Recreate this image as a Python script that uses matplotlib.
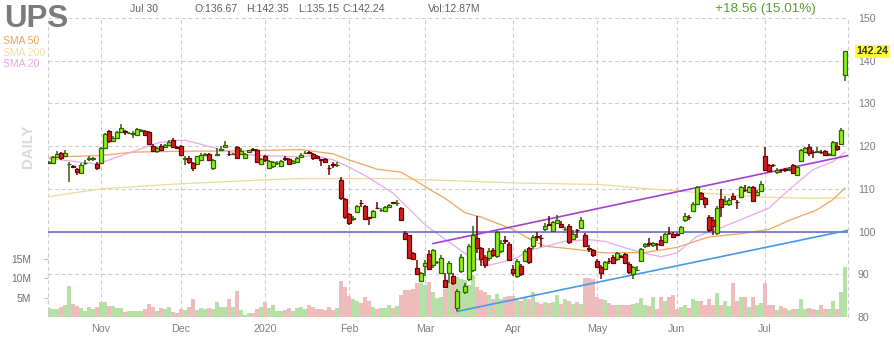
import matplotlib.pyplot as plt
import numpy as np

plt.rcParams['font.family'] = ['Liberation Sans', 'DejaVu Sans']

# UPS daily candles, one entry per trading day (15 Oct 2019 .. 30 Jul 2020)
opens = [
    116.1, 116.0, 117.5, 118.4, 117.6, 115.8, 115.4, 114.7, 113.7, 116.0,
    117.0, 117.0, 115.8, 116.05, 119.55, 123.45, 121.1, 122.0, 123.3, 123.5,
    123.05, 122.9, 122.7, 123.6, 123.45, 123.3, 120.1, 118.8, 119.95, 119.7,
    120.2, 121.5, 119.8, 119.95, 117.0, 117.2, 116.05, 115.8, 116.8, 118.0,
    118.2, 115.0, 118.0, 119.1, 119.7, 118.2, 118.1, 119.8, 118.2, 117.2,
    118.6, 119.4, 119.0, 115.9, 117.6, 114.9, 115.3, 116.05, 115.4, 117.1,
    117.0, 116.05, 116.4, 117.45, 118.3, 118.6, 118.15, 117.8, 116.9, 117.0,
    115.0, 115.8, 115.5, 112.15, 107.6, 104.2, 103.0, 104.5, 106.8, 106.1,
    103.3, 103.35, 105.6, 105.0, 104.75, 105.7, 106.9, 106.6, 105.5, 99.7,
    99.1, 95.0, 91.5, 88.4, 91.9, 94.8, 92.1, 92.8, 90.2, 88.55,
    90.2, 89.7, 82.2, 90.7, 85.8, 89.0, 90.9, 98.5, 96.2, 94.0,
    93.85, 95.6, 94.2, 95.4, 98.0, 97.0, 91.2, 89.6, 92.0, 93.05,
    96.2, 96.7, 99.0, 98.5, 100.5, 101.8, 100.1, 102.0, 101.8, 100.5,
    101.4, 98.3, 100.4, 100.85, 99.3, 96.2, 95.6, 93.2, 91.75, 91.3,
    93.2, 94.1, 93.5, 94.2, 94.85, 92.5, 89.95, 91.0, 93.1, 96.6,
    97.4, 96.8, 97.2, 98.05, 97.6, 99.7, 99.4, 99.4, 99.6, 102.6,
    103.4, 104.75, 106.5, 109.0, 107.9, 103.4, 102.7, 99.7, 107.6, 106.5,
    106.5, 108.25, 107.0, 108.0, 109.8, 109.3, 110.4, 108.6, 109.4, 117.7,
    115.6, 115.6, 113.9, 114.4, 114.6, 114.5, 115.5, 113.3, 116.6, 118.6,
    119.8, 118.7, 118.7, 118.7, 118.8, 118.0, 118.0, 120.0, 120.5, 136.67,
]
highs = [
    116.6, 117.8, 118.8, 118.6, 119.2, 116.2, 115.7, 115.0, 116.0, 116.8,
    117.6, 117.5, 116.2, 119.8, 123.0, 123.8, 122.3, 123.6, 125.1, 123.7,
    123.3, 123.6, 124.2, 124.0, 123.7, 123.5, 120.4, 119.8, 120.5, 120.6,
    121.5, 121.8, 120.0, 120.2, 117.6, 117.6, 116.3, 117.8, 118.4, 118.4,
    118.5, 117.0, 119.5, 120.1, 121.3, 118.8, 118.5, 120.0, 119.6, 118.5,
    119.2, 119.6, 119.3, 117.3, 118.0, 116.8, 116.5, 116.5, 116.8, 117.6,
    117.3, 116.8, 117.4, 118.3, 118.8, 118.8, 118.4, 118.0, 117.0, 117.2,
    115.7, 116.2, 116.4, 112.8, 107.9, 104.4, 103.6, 106.3, 107.5, 106.3,
    103.5, 105.1, 106.9, 105.5, 106.0, 106.5, 107.0, 107.5, 105.7, 100.2,
    99.3, 95.2, 93.3, 90.6, 93.3, 95.8, 96.0, 93.1, 94.5, 90.4,
    93.0, 90.2, 86.5, 94.8, 88.0, 97.0, 101.2, 103.7, 96.5, 94.5,
    96.2, 96.2, 100.2, 98.0, 98.9, 97.5, 92.2, 93.6, 92.5, 96.0,
    96.5, 99.2, 99.8, 99.2, 102.0, 103.6, 102.5, 103.8, 102.4, 101.0,
    101.8, 100.4, 100.7, 103.5, 99.6, 96.8, 95.9, 93.5, 92.2, 93.2,
    93.7, 94.4, 95.2, 94.5, 95.1, 92.8, 92.0, 92.0, 96.2, 97.4,
    98.5, 97.6, 97.4, 98.9, 99.6, 101.1, 99.8, 99.7, 101.4, 104.3,
    103.9, 106.9, 110.6, 109.3, 108.1, 103.8, 103.3, 106.0, 110.0, 108.3,
    107.8, 109.0, 107.3, 110.6, 111.0, 110.6, 110.7, 109.8, 111.9, 119.8,
    115.9, 115.9, 114.9, 114.7, 115.0, 115.2, 115.8, 115.3, 119.3, 119.8,
    120.4, 119.0, 119.9, 119.0, 119.1, 118.5, 121.2, 120.9, 124.3, 142.35,
]
lows = [
    115.8, 115.8, 117.3, 116.8, 117.4, 111.5, 114.8, 113.3, 113.5, 115.6,
    116.5, 116.6, 114.5, 115.8, 119.3, 120.8, 120.9, 121.8, 123.1, 122.7,
    122.8, 121.9, 122.5, 123.3, 122.3, 120.3, 118.6, 118.5, 118.8, 119.5,
    120.0, 119.6, 119.4, 117.8, 115.7, 115.8, 114.2, 115.6, 116.6, 117.6,
    116.5, 114.5, 117.6, 118.8, 119.5, 117.8, 117.9, 117.0, 118.0, 117.0,
    118.4, 118.9, 116.0, 115.5, 116.3, 114.6, 115.0, 115.7, 115.2, 116.6,
    115.6, 115.8, 116.2, 117.3, 118.1, 118.2, 116.8, 116.9, 115.4, 116.2,
    113.3, 114.8, 115.2, 107.5, 103.0, 101.5, 102.5, 104.3, 105.8, 102.8,
    101.6, 103.1, 105.2, 104.6, 104.5, 105.5, 106.6, 106.0, 102.6, 98.0,
    93.6, 93.3, 89.8, 88.2, 89.6, 91.0, 91.5, 92.5, 90.0, 86.9,
    88.0, 87.5, 81.3, 90.2, 85.5, 88.5, 90.5, 95.0, 92.0, 91.5,
    93.0, 94.0, 93.8, 95.0, 97.0, 93.0, 89.5, 89.2, 89.6, 92.8,
    92.5, 96.0, 97.8, 96.4, 100.2, 101.2, 99.9, 101.8, 100.8, 100.2,
    97.2, 98.0, 98.6, 100.5, 96.3, 95.2, 94.0, 91.4, 89.0, 91.0,
    92.5, 92.4, 93.2, 93.7, 92.5, 90.0, 88.8, 90.8, 92.9, 96.2,
    96.4, 96.5, 95.8, 96.6, 97.4, 99.2, 98.4, 98.9, 99.4, 102.3,
    102.8, 104.5, 106.3, 107.3, 105.5, 100.0, 99.3, 99.2, 103.5, 106.2,
    106.0, 107.3, 105.2, 107.8, 109.3, 109.0, 106.9, 108.4, 109.2, 114.2,
    113.9, 115.2, 113.4, 113.7, 114.0, 114.3, 113.5, 112.9, 116.3, 118.4,
    117.8, 117.2, 118.4, 118.2, 117.8, 117.9, 117.8, 118.9, 120.3, 135.15,
]
closes = [
    116.3, 117.4, 118.1, 117.2, 118.4, 115.9, 115.2, 113.9, 115.7, 116.1,
    117.1, 117.05, 115.0, 119.55, 122.8, 121.1, 122.0, 123.3, 124.2, 123.2,
    123.1, 123.0, 124.0, 123.7, 122.5, 120.5, 118.9, 119.55, 119.0, 120.3,
    121.0, 119.8, 119.6, 118.0, 117.1, 116.3, 114.9, 117.6, 118.0, 118.1,
    116.7, 116.8, 118.1, 119.2, 120.3, 118.1, 118.2, 117.2, 118.8, 118.1,
    119.0, 119.1, 116.2, 117.1, 116.7, 116.6, 116.2, 116.1, 116.6, 117.0,
    115.9, 116.6, 117.2, 118.0, 118.4, 118.5, 117.2, 117.2, 116.8, 116.4,
    114.8, 115.6, 115.7, 107.9, 103.4, 102.0, 103.1, 106.1, 106.6, 103.0,
    103.1, 104.9, 105.5, 105.1, 105.8, 106.3, 106.8, 106.7, 102.8, 98.3,
    93.85, 93.6, 90.0, 90.35, 92.7, 91.3, 95.8, 92.9, 93.85, 87.1,
    92.7, 87.9, 86.2, 94.1, 87.2, 96.7, 99.2, 96.2, 93.5, 92.2,
    95.4, 94.4, 99.8, 97.35, 97.9, 93.3, 90.3, 93.1, 90.0, 95.55,
    92.8, 98.8, 98.8, 98.4, 101.4, 101.6, 102.2, 102.8, 101.1, 100.6,
    97.5, 99.5, 100.3, 102.6, 96.6, 96.0, 94.4, 91.75, 90.35, 92.8,
    93.0, 92.7, 94.9, 94.1, 92.7, 90.5, 91.6, 91.1, 95.9, 97.0,
    97.2, 97.3, 97.0, 96.8, 99.5, 99.6, 98.7, 99.3, 101.1, 103.7,
    103.3, 106.5, 110.4, 107.7, 106.5, 100.3, 101.3, 105.5, 105.7, 107.1,
    107.5, 107.6, 106.9, 110.4, 109.7, 110.4, 107.2, 109.3, 111.1, 114.4,
    114.1, 115.5, 114.5, 114.3, 114.5, 114.7, 113.7, 115.1, 119.0, 119.5,
    118.4, 118.6, 118.8, 118.6, 118.0, 118.1, 121.0, 119.4, 123.68, 142.24,
]
# volume, millions of shares
volumes = [
    2.3, 2.0, 2.0, 2.6, 3.0, 7.9, 3.4, 2.8, 2.4, 1.6,
    2.6, 2.0, 2.6, 3.9, 3.8, 2.9, 2.7, 2.2, 2.2, 1.2,
    1.5, 1.5, 1.5, 1.6, 2.0, 3.3, 2.6, 1.6, 2.4, 2.0,
    2.5, 1.4, 1.0, 2.1, 1.8, 2.6, 4.6, 1.7, 2.4, 2.0,
    2.4, 2.0, 3.8, 2.5, 2.5, 4.6, 2.6, 6.7, 1.8, 0.6,
    0.9, 0.9, 2.0, 2.5, 3.9, 2.2, 3.0, 1.6, 1.6, 1.8,
    2.2, 1.6, 2.2, 2.6, 2.0, 3.0, 2.6, 2.1, 2.1, 1.8,
    2.6, 1.8, 2.2, 9.2, 7.7, 5.3, 4.5, 4.1, 3.6, 5.2,
    4.1, 2.6, 2.1, 2.4, 2.4, 3.0, 2.2, 2.9, 5.6, 6.9,
    7.0, 7.1, 8.6, 8.6, 8.3, 9.0, 6.3, 4.9, 5.2, 7.3,
    8.6, 10.3, 10.3, 9.7, 9.4, 8.1, 10.8, 7.7, 6.9, 6.4,
    5.6, 4.7, 6.0, 4.7, 5.1, 5.3, 5.3, 4.3, 4.2, 5.2,
    4.7, 6.4, 3.9, 3.3, 3.9, 3.5, 3.9, 5.6, 3.3, 4.7,
    4.1, 3.3, 3.9, 3.3, 10.0, 10.0, 9.7, 5.2, 4.7, 4.3,
    3.5, 3.1, 3.1, 3.0, 3.0, 3.0, 3.3, 3.5, 5.0, 3.2,
    2.7, 5.2, 2.0, 5.1, 4.1, 5.1, 5.6, 2.0, 2.6, 3.2,
    2.2, 4.6, 4.1, 4.1, 3.1, 4.7, 3.1, 6.1, 3.1, 4.1,
    2.7, 8.6, 4.1, 5.1, 5.1, 2.5, 5.1, 3.2, 3.6, 8.6,
    3.1, 3.1, 1.7, 2.7, 2.2, 1.9, 2.0, 2.0, 4.6, 2.0,
    2.2, 2.0, 1.7, 3.1, 2.0, 2.0, 4.1, 2.0, 6.4, 12.87,
]

# first trading day of each month (candle index)
month_pos = [13, 33, 54, 75, 94, 116, 137, 157, 179]
month_labels = ['Nov', 'Dec', '2020', 'Feb', 'Mar', 'Apr', 'May', 'Jun', 'Jul']

# moving averages (index, value)
sma20_idx = [0, 12, 20, 27, 31, 34, 41, 47, 53, 63, 66, 71, 75, 80, 86, 91, 94, 99, 104,
             110, 116, 121, 129, 135, 139, 144, 149, 153, 157, 162, 168, 174, 180, 185,
             191, 196, 199]
sma20_val = [117.1, 115.8, 118.4, 120.7, 121.3, 121.4, 119.7, 118.2, 117.8, 117.5, 117.8,
             116.8, 115.1, 112.6, 109.0, 104.4, 101.6, 98.2, 94.9, 92.1, 93.5, 95.8, 97.7,
             98.1, 97.7, 96.2, 94.9, 94.1, 95.0, 98.9, 100.9, 103.2, 105.5, 109.8, 114.5,
             116.4, 118.6]
sma50_idx = [0, 13, 21, 33, 49, 63, 71, 75, 82, 88, 91, 96, 99, 104, 108, 116, 121, 124,
             132, 139, 149, 157, 165, 173, 180, 185, 192, 196, 199]
sma50_val = [117.45, 117.8, 118.6, 118.8, 118.9, 119.2, 118.2, 116.8, 114.6, 113.9, 112.3,
             109.4, 107.8, 104.4, 103.4, 100.5, 97.8, 96.6, 95.8, 95.0, 95.1, 96.3, 98.75,
             99.5, 100.5, 102.6, 105.1, 107.5, 110.2]
sma200_idx = [0, 13, 33, 54, 63, 86, 95, 116, 138, 150, 160, 170, 180, 190, 199]
sma200_val = [108.2, 110.0, 111.2, 112.1, 112.4, 112.4, 112.1, 111.4, 111.0, 110.0, 109.3,
              108.6, 108.0, 107.8, 107.9]

# trend lines drawn on the chart
upper_x, upper_y = [96, 199.75], [97.2, 117.8]
lower_x, lower_y = [102, 199.75], [81.3, 100.3]
level = 100

W, H = 895, 337
fig = plt.figure(figsize=(W / 100, H / 100), dpi=100)
ax = fig.add_axes([48 / W, 20 / H, 800 / W, 299 / H])
axv = ax.twinx()
ax.set_zorder(2)
axv.set_zorder(1)
ax.patch.set_visible(False)

x = np.arange(len(closes))
o = np.array(opens)
c = np.array(closes)
hi = np.array(highs)
lo = np.array(lows)
up = c >= o

x_lo, x_hi = -0.25, 199.75
ax.set_xlim(x_lo, x_hi)
ax.set_ylim(80, 150)
axv.set_ylim(0, 76.7)

# volume
vcol = np.where(up, '#b6e0a6', '#eebcbc')
axv.bar(x, volumes, width=1.0, color=vcol, lw=0)

# grid
grid = dict(color='#cdcdcd', lw=0.8, ls=(0, (3.5, 2.5)), zorder=0)
for yv in range(80, 151, 10):
    ax.axhline(yv, **grid)
for xv in month_pos + [x_lo, x_hi]:
    ax.axvline(xv, clip_on=False, **grid)

# moving averages and lines
ax.plot(sma200_idx, sma200_val, color='#eedb98', lw=0.9, zorder=2)
ax.plot(sma50_idx, sma50_val, color='#f3a45e', lw=0.9, zorder=2)
ax.plot(sma20_idx, sma20_val, color='#e8aae7', lw=0.9, zorder=2)
ax.axhline(level, color='#6c6cd4', lw=1.2, zorder=3)
ax.plot(upper_x, upper_y, color='#a640d2', lw=1.2, zorder=3)
ax.plot(lower_x, lower_y, color='#4a98e8', lw=1.2, zorder=3)

# candles
body_lo = np.minimum(o, c)
body_h = np.maximum(np.abs(c - o), 0.12)
for mask, fill, edge in [(up, '#8cf01a', '#2f6400'), (~up, '#d41f1f', '#6e0000')]:
    ax.vlines(x[mask], lo[mask], hi[mask], color=edge, lw=1.1, zorder=5)
    ax.bar(x[mask], body_h[mask], bottom=body_lo[mask], width=0.8, color=fill,
           edgecolor=edge, lw=0.9, zorder=6)

for a in (ax, axv):
    for s in a.spines.values():
        s.set_visible(False)

ax.set_xticks(month_pos, month_labels)
ax.tick_params(axis='x', length=0, pad=5, labelsize=7.7, labelcolor='#808080')
ax.yaxis.tick_right()
ax.set_yticks(range(80, 151, 10))
ax.tick_params(axis='y', length=0, pad=7, labelsize=7.6, labelcolor='#7c7c7c')

axv.yaxis.tick_left()
axv.set_yticks([5, 10, 15], ['5M', '10M', '15M'])
axv.tick_params(axis='y', length=3, width=0.8, color='#bbbbbb', pad=9, labelsize=7.4,
                labelcolor='#707070')

# last price tag
ax.text(x_hi + 2.2, closes[-1], '%.2f' % closes[-1], fontsize=7.6, fontweight='bold',
        color='#333333', va='center', ha='left', zorder=10, clip_on=False,
        bbox=dict(boxstyle='square,pad=0.15', fc='#ffff33', ec='none'))


def ftext(px, py, s, **kw):
    fig.text(px / W, 1 - py / H, s, va='baseline', ha='left', **kw)


ftext(4, 27, 'UPS', fontsize=22.5, fontweight='bold', color='#7a7a7f')
ftext(3, 44, 'SMA 50', fontsize=7.5, color='#f2a25c')
ftext(3, 56, 'SMA 200', fontsize=7.5, color='#eedfa6')
ftext(3, 67.3, 'SMA 20', fontsize=7.5, color='#e6a4e4')
hdr = dict(fontsize=7.6, color='#606060')
ftext(130, 12.5, 'Jul 30', **hdr)
ftext(195, 12.5, 'O:%.2f' % opens[-1], **hdr)
ftext(246, 12.5, 'H:%.2f' % highs[-1], **hdr)
ftext(298, 12.5, 'L:%.2f' % lows[-1], **hdr)
ftext(343, 12.5, 'C:%.2f' % closes[-1], **hdr)
ftext(428, 12.5, 'Vol:%.2fM' % volumes[-1], **hdr)
chg = closes[-1] - closes[-2]
ftext(715, 11.7, '+%.2f (%.2f%%)' % (chg, chg / closes[-2] * 100), fontsize=9.7,
      color='#5aa02c')
fig.text(28 / W, 1 - 146 / H, 'DAILY', rotation=90, fontsize=10.8, fontweight='bold',
         color='#dadada', va='center', ha='center')

fig.savefig('out.png', dpi=100)
